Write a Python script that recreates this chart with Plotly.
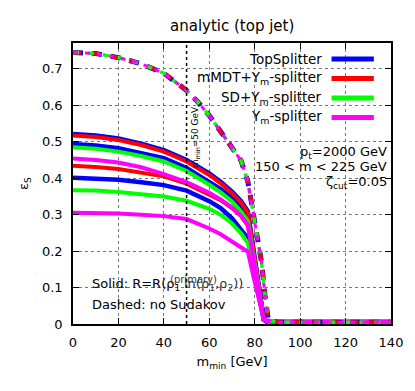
import plotly.graph_objects as go

# m_min values (GeV) where the solid curves are read
m_min = [0, 10, 20, 30, 40, 50, 60, 65, 70, 74, 77, 80, 82, 84, 86, 90, 100, 120, 140]

# solid curves (with Sudakov), two sets per tagger
topsplitter_a = [.521, .517, .509, .495, .477, .450, .413, .390, .363, .337, .309, .180, .095, .012, .004, .003, .003, .003, .003]
topsplitter_b = [.494, .490, .482, .470, .455, .428, .391, .370, .345, .318, .292, .167, .085, .012, .004, .003, .003, .003, .003]
topsplitter_c = [.401, .400, .396, .389, .381, .366, .337, .318, .290, .258, .235, .135, .070, .012, .004, .003, .003, .003, .003]
mmdt_a = [.517, .513, .505, .491, .473, .446, .409, .386, .359, .333, .305, .176, .090, .012, .007, .006, .006, .006, .006]
mmdt_b = [.434, .431, .425, .416, .405, .385, .357, .340, .318, .296, .270, .154, .077, .012, .007, .006, .006, .006, .006]
sd_a = [.485, .481, .473, .461, .446, .420, .382, .361, .336, .309, .282, .161, .081, .012, .007, .006, .006, .006, .006]
sd_b = [.367, .366, .362, .357, .350, .338, .316, .300, .276, .248, .222, .127, .065, .012, .007, .006, .006, .006, .006]
ym_a = [.454, .450, .443, .430, .411, .389, .360, .342, .320, .297, .272, .155, .078, .012, .007, .006, .006, .006, .006]
ym_b = [.305, .305, .303, .300, .296, .288, .262, .246, .226, .212, .198, .115, .060, .012, .007, .006, .006, .006, .006]

# dashed curve (no Sudakov), all taggers on top of each other
m_dash = [0, 10, 20, 30, 40, 50, 55, 60, 65, 70, 74, 77, 79, 81, 83, 84.5, 86, 90, 100, 140]
no_sudakov = [.745, .742, .731, .714, .688, .641, .609, .572, .528, .485, .448, .390, .315, .250, .170, .080, .010, .005, .005, .005]

labels = ["TopSplitter", "mMDT+Y<sub>m</sub>-splitter", "SD+Y<sub>m</sub>-splitter", "Y<sub>m</sub>-splitter"]
colors = ["#0000ff", "#ff0000", "#00ff00", "#ff00ff"]
solid_sets = [[topsplitter_a, topsplitter_b, topsplitter_c], [mmdt_a, mmdt_b], [sd_a, sd_b], [ym_a, ym_b]]
dashes = ["10px,9px", "8px,11px", "6px,9px", "5px,7px"]
widths = [5, 4, 3.5, 3]

FONT = "DejaVu Sans"

fig = go.Figure()

for col, curves in zip(colors, solid_sets):
    for c in curves:
        fig.add_trace(go.Scatter(x=m_min, y=c, mode="lines", line=dict(color=col, width=4.5 if col == "#0000ff" else 4),
                                 showlegend=False, hoverinfo="skip"))

for col, d, w in zip(colors, dashes, widths):
    fig.add_trace(go.Scatter(x=m_dash, y=no_sudakov, mode="lines", line=dict(color=col, width=w, dash=d),
                             showlegend=False, hoverinfo="skip"))

# m_min = 50 GeV marker
fig.add_vline(x=50, line=dict(color="black", width=1.5, dash="dot"))

ann = []
# hand made legend (text left of the line sample, gnuplot style)
row_y = [0.943, 0.874, 0.804, 0.735]
for lab, col, yy in zip(labels, colors, row_y):
    ann.append(dict(x=0.788, y=yy, xref="paper", yref="paper", text=lab, showarrow=False,
                    xanchor="right", yanchor="middle", font=dict(size=13.5, color="black", family=FONT)))
    fig.add_shape(type="line", xref="paper", yref="paper", x0=0.813, x1=0.946, y0=yy, y1=yy,
                  line=dict(color=col, width=5))

ann += [
    dict(x=0.5, y=1.0605, text="analytic (top jet)", xanchor="center", size=15),
    dict(x=0.993, y=0.612, text="p<sub>t</sub>=2000 GeV", xanchor="right"),
    dict(x=0.993, y=0.560, text="150 < m < 225 GeV", xanchor="right"),
    dict(x=0.993, y=0.503, text="ζ<sub>cut</sub>=0.05", xanchor="right"),
    dict(x=0.053, y=0.139, text="Solid: R=R(ρ<sub>1</sub>", xanchor="left"),
    dict(x=0.54, y=0.139, text="ln(ρ<sub>1</sub>,ρ<sub>2</sub>))", xanchor="right", color="#333333"),
    dict(x=0.30, y=0.16, text="(primary)", xanchor="left", size=10, color="#333333"),
    dict(x=0.053, y=0.068, text="Dashed: no Sudakov", xanchor="left"),
    dict(x=0.383, y=0.665, text="m<sub>min</sub>=50 GeV", xanchor="center", size=9, textangle=-90),
]
annotations = []
for a in ann:
    a = dict(a)
    size = a.pop("size", 13)
    color = a.pop("color", "black")
    a.setdefault("xref", "paper")
    a.setdefault("yref", "paper")
    a.setdefault("showarrow", False)
    a.setdefault("yanchor", "middle")
    a["font"] = a.get("font", dict(size=size, color=color, family=FONT))
    annotations.append(a)

axis_common = dict(showline=True, linecolor="black", linewidth=1.5, mirror="allticks", ticks="inside",
                   ticklen=6, tickcolor="black", tickwidth=1, showgrid=True, gridcolor="#777777",
                   griddash="dot", gridwidth=1, zeroline=False,
                   tickfont=dict(size=13, color="black", family=FONT))

# the page adds an 8px body margin, so the figure is a bit smaller than the window
fig.update_layout(
    width=407, height=383,
    margin=dict(l=65, r=18, t=35, b=67),
    paper_bgcolor="white", plot_bgcolor="white",
    xaxis=dict(range=[0, 140], tickvals=[0, 20, 40, 60, 80, 100, 120, 140],
               title=dict(text="m<sub>min</sub> [GeV]", standoff=8, font=dict(size=13, color="black", family=FONT)),
               ticklabelstandoff=6, **axis_common),
    yaxis=dict(range=[0, 0.771], tickvals=[0, 0.1, 0.2, 0.3, 0.4, 0.5, 0.6, 0.7],
               ticktext=["0", "0.1", "0.2", "0.3", "0.4", "0.5", "0.6", "0.7"],
               title=dict(text="ε<sub>S</sub>", standoff=10, font=dict(size=13, color="black", family=FONT)),
               ticklabelstandoff=6, **axis_common),
    annotations=annotations,
    showlegend=False,
)

fig.write_html("out.html")
